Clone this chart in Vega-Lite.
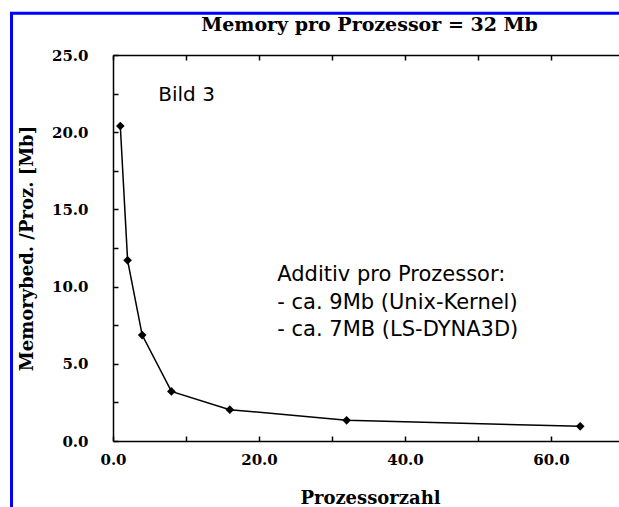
{
  "$schema": "https://vega.github.io/schema/vega-lite/v6.json",
  "width": 507,
  "height": 386,
  "autosize": "none",
  "padding": {"left": 113, "top": 55, "right": 0, "bottom": 66},
  "background": "white",
  "config": {
    "view": {"stroke": null},
    "axis": {
      "grid": false,
      "domainColor": "black",
      "domainWidth": 1.5,
      "tickColor": "black",
      "tickWidth": 1.5,
      "tickSize": -5,
      "labelFlush": false,
      "labelFont": "DejaVu Serif",
      "labelFontWeight": "bold",
      "labelFontSize": 15,
      "labelColor": "black",
      "titleFont": "DejaVu Serif",
      "titleFontWeight": "bold",
      "titleFontSize": 18,
      "titleColor": "black"
    }
  },
  "resolve": {"axis": {"x": "independent", "y": "independent"}},
  "datasets": {
    "pts": [
      {"n": 1, "mem": 20.4},
      {"n": 2, "mem": 11.7},
      {"n": 4, "mem": 6.86},
      {"n": 8, "mem": 3.21},
      {"n": 16, "mem": 2.03},
      {"n": 32, "mem": 1.34},
      {"n": 64, "mem": 0.95}
    ],
    "notes": [
      {"x": 6.2, "y": 22.4, "text": "Bild 3", "size": 20},
      {"x": 22.5, "y": 10.74, "text": "Additiv pro Prozessor:", "size": 21},
      {"x": 22.5, "y": 8.93, "text": "- ca. 9Mb (Unix-Kernel)", "size": 21},
      {"x": 22.5, "y": 7.18, "text": "- ca. 7MB (LS-DYNA3D)", "size": 21}
    ]
  },
  "layer": [
    {
      "data": {"name": "pts"},
      "mark": {"type": "line", "color": "black", "strokeWidth": 1.5},
      "encoding": {
        "x": {
          "field": "n",
          "type": "quantitative",
          "scale": {"domain": [0, 69.45], "nice": false, "zero": false},
          "axis": {
            "orient": "bottom",
            "values": [0, 10, 20, 30, 40, 50, 60],
            "labelExpr": "datum.value % 20 === 0 ? format(datum.value, '.1f') : ''",
            "labelPadding": 16,
            "title": "Prozessorzahl",
            "titleX": 257,
            "titleY": 57,
            "titleBaseline": "middle"
          }
        },
        "y": {
          "field": "mem",
          "type": "quantitative",
          "scale": {"domain": [0, 25], "nice": false},
          "axis": {
            "orient": "left",
            "values": [0, 2.5, 5, 7.5, 10, 12.5, 15, 17.5, 20, 22.5, 25],
            "labelExpr": "datum.value % 5 === 0 ? format(datum.value, '.1f') : ''",
            "labelPadding": 30,
            "title": "Memorybed. /Proz. [Mb]",
            "titleX": -86,
            "titleBaseline": "middle"
          }
        }
      }
    },
    {
      "data": {"name": "pts"},
      "mark": {"type": "point", "shape": "diamond", "filled": true, "color": "black", "size": 75, "opacity": 1},
      "encoding": {
        "x": {
          "field": "n",
          "type": "quantitative",
          "axis": {
            "orient": "top",
            "values": [0, 10, 20, 30, 40, 50, 60],
            "labels": false,
            "title": "Memory pro Prozessor = 32 Mb",
            "titleFontSize": 19,
            "titleX": 256,
            "titleY": -31,
            "titleBaseline": "middle"
          }
        },
        "y": {"field": "mem", "type": "quantitative", "axis": null}
      }
    },
    {
      "data": {"name": "notes"},
      "mark": {"type": "text", "align": "left", "baseline": "middle", "font": "DejaVu Sans", "color": "black"},
      "encoding": {
        "x": {"field": "x", "type": "quantitative", "axis": null},
        "y": {"field": "y", "type": "quantitative", "axis": null},
        "text": {"field": "text"},
        "size": {"field": "size", "type": "quantitative", "scale": null}
      }
    },
    {
      "data": {"values": [{}]},
      "mark": {"type": "rect", "fill": null, "stroke": "#0000ff", "strokeWidth": 3, "clip": false},
      "encoding": {
        "x": {"datum": -13.9, "type": "quantitative", "axis": null},
        "x2": {"datum": 200},
        "y": {"datum": 27.7, "type": "quantitative", "axis": null},
        "y2": {"datum": -40}
      }
    }
  ]
}
